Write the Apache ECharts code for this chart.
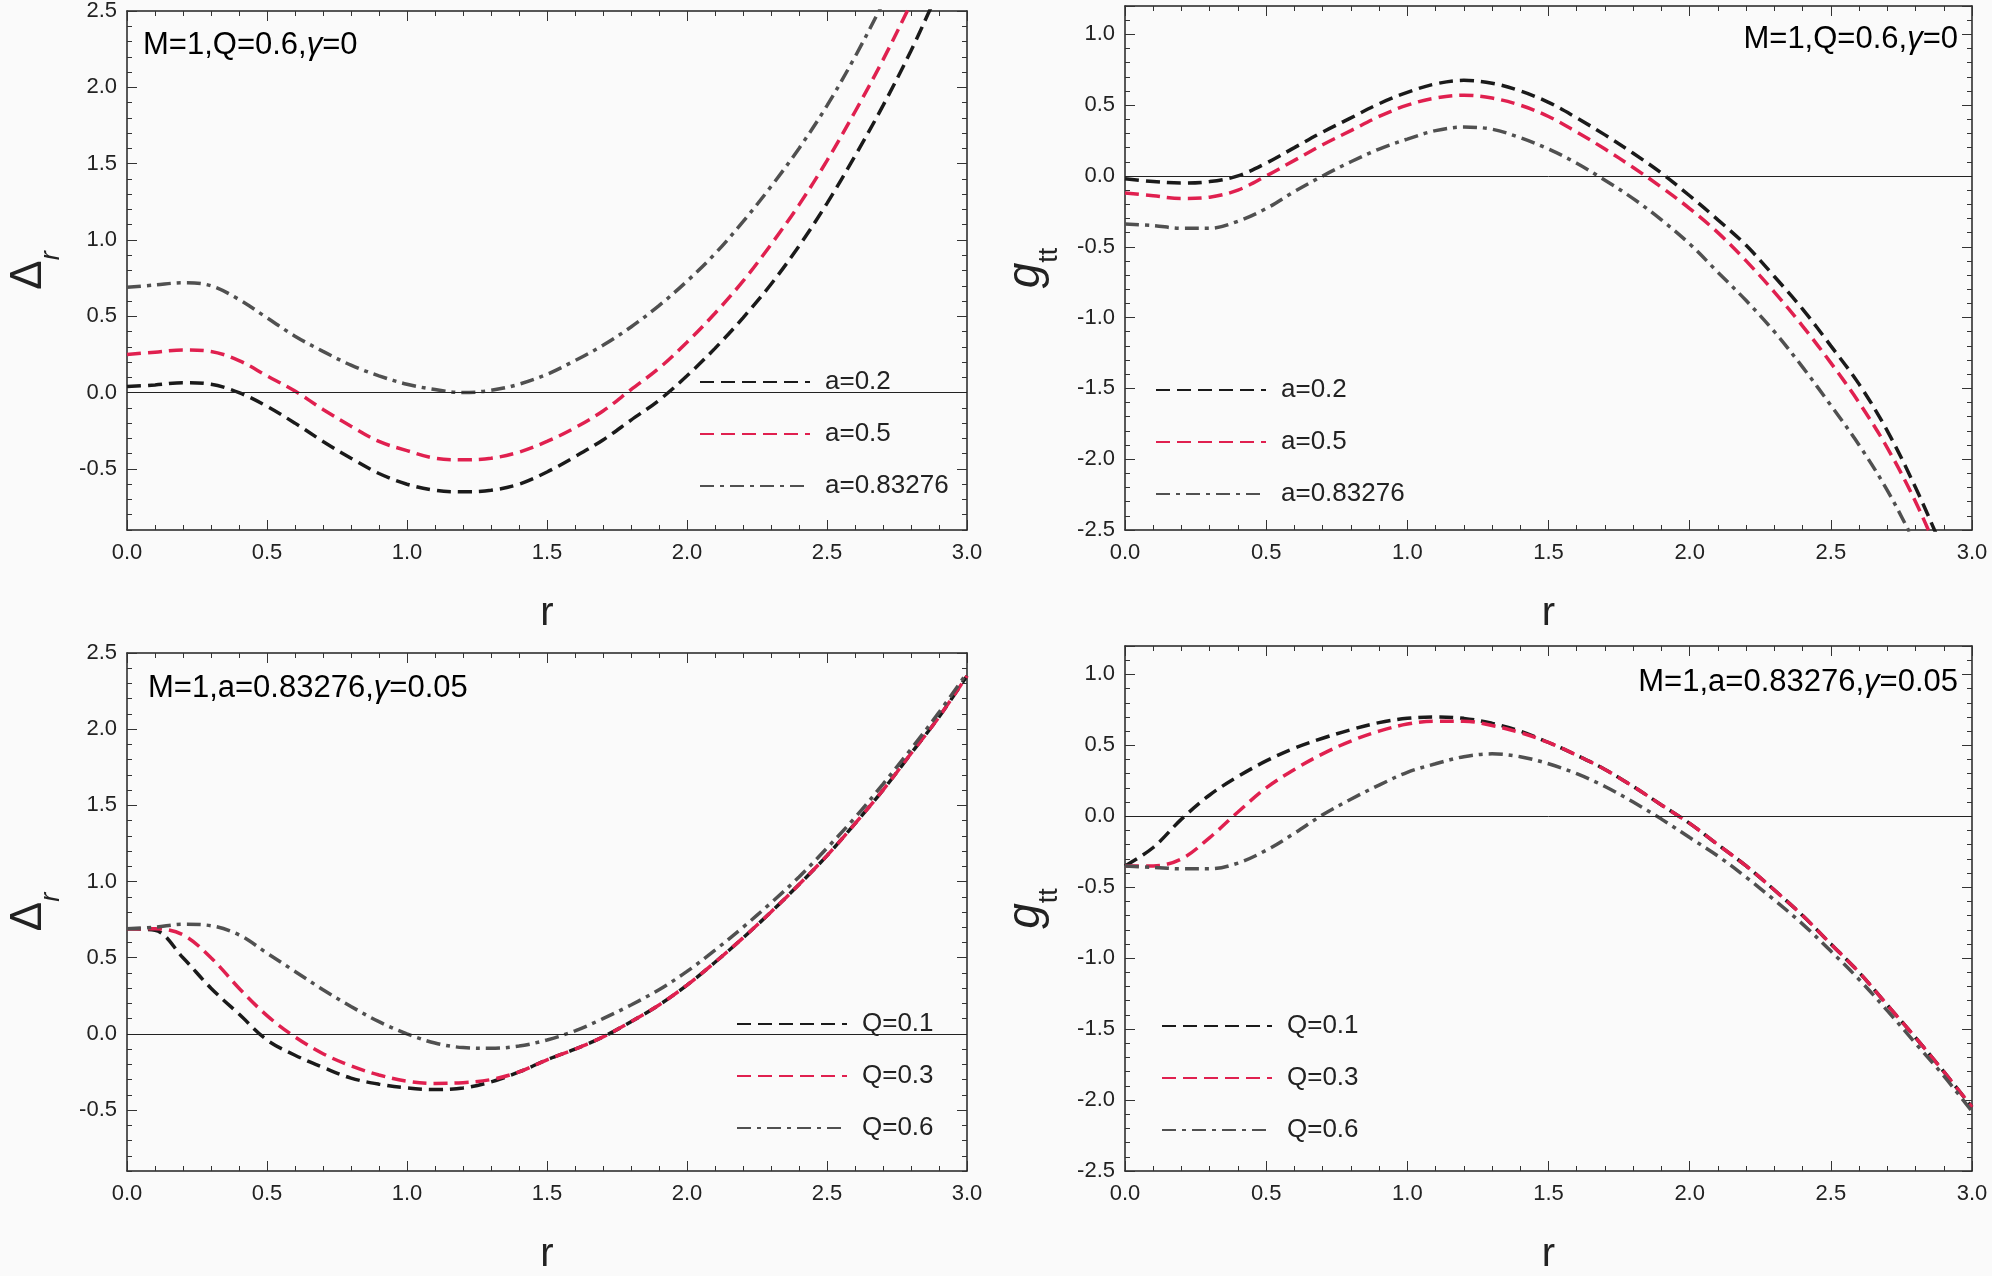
<!DOCTYPE html>
<html>
<head>
<meta charset="utf-8">
<script src="https://cdn.jsdelivr.net/npm/echarts@6/dist/echarts.min.js"></script>
<style>
  html, body { margin: 0; padding: 0; background: #fafafa; }
  #main { width: 1992px; height: 1276px; }
</style>
</head>
<body>
<div id="main"></div>
<script>
// r grid, 0 .. 3 in steps of 0.1
var rVals = [0,0.1,0.2,0.3,0.4,0.5,0.6,0.7,0.8,0.9,1.0,1.1,1.2,1.3,1.4,1.5,1.6,1.7,1.8,1.9,2.0,2.1,2.2,2.3,2.4,2.5,2.6,2.7,2.8,2.9,3.0];

// top-left: Delta_r, M=1, Q=0.6, gamma=0
var deltaA02 = [0.04,0.05,0.065,0.055,0.0,-0.09,-0.2,-0.32,-0.43,-0.53,-0.6,-0.64,-0.65,-0.64,-0.6,-0.52,-0.42,-0.31,-0.18,-0.05,0.11,0.29,0.49,0.71,0.96,1.24,1.55,1.88,2.24,2.64,3.05];
var deltaA05 = [0.25,0.265,0.28,0.27,0.21,0.11,0.01,-0.11,-0.22,-0.32,-0.38,-0.43,-0.44,-0.43,-0.39,-0.32,-0.23,-0.12,0.02,0.16,0.33,0.52,0.73,0.97,1.23,1.52,1.84,2.18,2.55,2.93,3.33];
var deltaA083 = [0.69,0.705,0.72,0.7,0.61,0.49,0.37,0.27,0.18,0.11,0.055,0.02,0.0,0.015,0.055,0.12,0.21,0.31,0.43,0.57,0.73,0.91,1.12,1.35,1.6,1.88,2.2,2.55,2.9,3.26,3.63];

// top-right: g_tt, M=1, Q=0.6, gamma=0
var gttA02 = [-0.02,-0.04,-0.05,-0.04,0.0,0.09,0.2,0.31,0.41,0.51,0.59,0.65,0.675,0.655,0.6,0.52,0.41,0.29,0.16,0.02,-0.14,-0.31,-0.49,-0.71,-0.94,-1.2,-1.47,-1.8,-2.2,-2.65,-3.1];
var gttA05 = [-0.12,-0.14,-0.16,-0.15,-0.1,0.0,0.11,0.22,0.32,0.42,0.5,0.55,0.57,0.55,0.5,0.42,0.31,0.19,0.06,-0.08,-0.23,-0.4,-0.6,-0.82,-1.06,-1.32,-1.6,-1.92,-2.3,-2.75,-3.2];
var gttA083 = [-0.34,-0.35,-0.37,-0.37,-0.32,-0.23,-0.11,0.0,0.1,0.19,0.26,0.32,0.345,0.33,0.27,0.19,0.09,-0.03,-0.16,-0.31,-0.48,-0.68,-0.88,-1.1,-1.35,-1.62,-1.9,-2.22,-2.6,-3.0,-3.4];

// bottom-left: Delta_r, M=1, a=0.83276, gamma=0.05
var deltaQ01 = [0.69,0.68,0.5,0.3,0.13,-0.04,-0.14,-0.22,-0.29,-0.33,-0.355,-0.365,-0.355,-0.315,-0.25,-0.17,-0.1,-0.02,0.08,0.19,0.32,0.47,0.63,0.8,0.98,1.17,1.38,1.6,1.84,2.08,2.35];
var deltaQ03 = [0.69,0.69,0.65,0.5,0.3,0.12,-0.02,-0.13,-0.21,-0.27,-0.31,-0.325,-0.32,-0.3,-0.25,-0.17,-0.1,-0.02,0.08,0.19,0.32,0.47,0.63,0.8,0.98,1.17,1.38,1.6,1.84,2.08,2.35];
var deltaQ06 = [0.69,0.7,0.72,0.71,0.65,0.53,0.41,0.29,0.18,0.08,0.0,-0.06,-0.09,-0.095,-0.08,-0.04,0.02,0.1,0.19,0.29,0.41,0.55,0.7,0.86,1.03,1.22,1.42,1.64,1.87,2.11,2.37];

// bottom-right: g_tt, M=1, a=0.83276, gamma=0.05
var gttQ01 = [-0.35,-0.22,-0.02,0.15,0.28,0.39,0.48,0.55,0.61,0.66,0.69,0.7,0.69,0.655,0.6,0.52,0.43,0.33,0.21,0.08,-0.05,-0.2,-0.35,-0.52,-0.7,-0.9,-1.1,-1.33,-1.56,-1.8,-2.05];
var gttQ03 = [-0.35,-0.35,-0.3,-0.15,0.03,0.2,0.33,0.44,0.53,0.6,0.65,0.67,0.67,0.64,0.59,0.52,0.43,0.33,0.21,0.08,-0.05,-0.2,-0.35,-0.52,-0.7,-0.9,-1.1,-1.33,-1.56,-1.8,-2.05];
var gttQ06 = [-0.35,-0.36,-0.37,-0.37,-0.33,-0.24,-0.12,0.01,0.12,0.22,0.31,0.37,0.42,0.44,0.42,0.37,0.3,0.21,0.1,-0.02,-0.15,-0.28,-0.43,-0.59,-0.76,-0.95,-1.15,-1.37,-1.6,-1.83,-2.08];

var deltaTicks = [-0.5,0,0.5,1,1.5,2,2.5];

var FONT = 'Liberation Sans';
var BLACK = '#1a1a1a', RED = '#e0204f', GRAY = '#505050';
var DASH = [14, 7], DASHDOT = [14, 6, 4, 6];

var grids = [
  { left: 127, top: 10, width: 840, height: 520 },
  { left: 1125, top: 6, width: 847, height: 524 },
  { left: 127, top: 653, width: 840, height: 519 },
  { left: 1125, top: 646, width: 847, height: 526 }
];

function fmt(v) { return v.toFixed(1); }

var xAxes = [], yAxes = [], series = [];

grids.forEach(function (g, i) {
  var base = {
    gridIndex: i, type: 'value', min: 0, max: 3, interval: 0.5,
    axisLine: { show: true, onZero: false, lineStyle: { color: '#222', width: 1.5 } },
    axisTick: { inside: true, length: 10, lineStyle: { color: '#333' } },
    minorTick: { show: true, splitNumber: 5, length: 5, lineStyle: { color: '#333' } },
    splitLine: { show: false }
  };
  xAxes.push(Object.assign({}, base, {
    position: 'bottom',
    axisLabel: { fontFamily: FONT, fontSize: 22, color: '#222', margin: 12, formatter: fmt },
    name: 'r', nameLocation: 'middle', nameGap: 64,
    nameTextStyle: { fontFamily: FONT, fontSize: 40, color: '#222' }
  }));
  xAxes.push(Object.assign({}, base, { position: 'top', axisLabel: { show: false } }));
});

function yName(i) {
  if (i % 2 === 0) return '{d|Δ}{s|r}';
  return '{g|g}{t|tt}';
}
var yRich = {
  d: { fontFamily: FONT, fontSize: 44, color: '#222' },
  s: { fontFamily: FONT, fontSize: 27, fontStyle: 'italic', color: '#222', verticalAlign: 'bottom', padding: [0, 0, -14, 0] },
  g: { fontFamily: FONT, fontSize: 46, fontStyle: 'italic', color: '#222' },
  t: { fontFamily: FONT, fontSize: 27, color: '#222', verticalAlign: 'bottom', padding: [0, 0, -14, 0] }
};

grids.forEach(function (g, i) {
  var isDelta = (i % 2 === 0);
  var ymin = isDelta ? -0.9 : -2.5, ymax = isDelta ? 2.5 : 1.2;
  ['left', 'right'].forEach(function (pos) {
    var ax = {
      gridIndex: i, type: 'value', min: ymin, max: ymax, position: pos,
      axisLine: { show: true, onZero: false, lineStyle: { color: '#222', width: 1.5 } },
      splitLine: { show: false }
    };
    if (isDelta) {
      ax.interval = 0.1;
      ax.axisTick = { inside: true, length: 5, lineStyle: { color: '#333' } };
    } else {
      ax.interval = 0.5;
      ax.axisTick = { inside: true, length: 10, lineStyle: { color: '#333' } };
      ax.minorTick = { show: true, splitNumber: 5, length: 5, lineStyle: { color: '#333' } };
    }
    if (pos === 'left') {
      ax.axisLabel = { fontFamily: FONT, fontSize: 22, color: '#222', margin: 10, formatter: fmt, showMaxLabel: isDelta };
      if (isDelta) ax.axisLabel.customValues = deltaTicks;
      ax.name = yName(i);
      ax.nameLocation = 'middle';
      ax.nameRotate = 90;
      ax.nameGap = 76;
      ax.nameTextStyle = { rich: yRich };
    } else {
      ax.axisLabel = { show: false };
    }
    yAxes.push(ax);
    if (isDelta) {
      // long major ticks at 0.5 steps
      yAxes.push({
        gridIndex: i, type: 'value', min: ymin, max: ymax, position: pos, interval: 0.1,
        axisLine: { show: false, onZero: false }, splitLine: { show: false }, axisLabel: { show: false },
        axisTick: { inside: true, length: 10, customValues: deltaTicks, lineStyle: { color: '#333' } }
      });
    }
  });
});

// index of the first y axis of each grid
var yStart = [0, 4, 6, 10];

function pairs(ys) { return rVals.map(function (r, k) { return [r, ys[k]]; }); }

function addLine(i, name, ys, color, dash, withZero) {
  var s = {
    name: name, type: 'line', xAxisIndex: i * 2, yAxisIndex: yStart[i],
    data: pairs(ys), smooth: 0.35, symbol: 'none', clip: true,
    lineStyle: { color: color, width: 3.5, type: dash },
    itemStyle: { color: color }
  };
  if (withZero) {
    s.markLine = {
      silent: true, symbol: 'none', label: { show: false },
      lineStyle: { color: '#222', width: 1, type: 'solid' },
      data: [{ yAxis: 0 }]
    };
  }
  series.push(s);
}

addLine(0, 'a=0.2', deltaA02, BLACK, DASH, true);
addLine(0, 'a=0.5', deltaA05, RED, DASH);
addLine(0, 'a=0.83276', deltaA083, GRAY, DASHDOT);
addLine(1, 'a=0.2', gttA02, BLACK, DASH, true);
addLine(1, 'a=0.5', gttA05, RED, DASH);
addLine(1, 'a=0.83276', gttA083, GRAY, DASHDOT);
addLine(2, 'Q=0.1', deltaQ01, BLACK, DASH, true);
addLine(2, 'Q=0.3', deltaQ03, RED, DASH);
addLine(2, 'Q=0.6', deltaQ06, GRAY, DASHDOT);
addLine(3, 'Q=0.1', gttQ01, BLACK, DASH, true);
addLine(3, 'Q=0.3', gttQ03, RED, DASH);
addLine(3, 'Q=0.6', gttQ06, GRAY, DASHDOT);

function legendAt(left, top, names) {
  return {
    left: left, top: top, orient: 'vertical', itemWidth: 110, itemHeight: 14, itemGap: 26,
    selectedMode: false, data: names,
    itemStyle: { opacity: 0 },
    textStyle: { fontFamily: FONT, fontSize: 26, color: '#222', padding: [0, 0, 0, 10] }
  };
}
var aNames = ['a=0.2', 'a=0.5', 'a=0.83276'];
var qNames = ['Q=0.1', 'Q=0.3', 'Q=0.6'];

var noteRich = {
  n: { fontFamily: FONT, fontSize: 31, color: '#222' },
  i: { fontFamily: FONT, fontSize: 31, fontStyle: 'italic', color: '#222' }
};
function note(x, y, align, parts) {
  return {
    type: 'text', left: align === 'left' ? x : null, right: align === 'right' ? x : null, top: y,
    style: { text: parts, rich: noteRich, align: align }
  };
}

var chart = echarts.init(document.getElementById('main'));
chart.setOption({
  backgroundColor: '#fafafa',
  animation: false,
  grid: grids,
  xAxis: xAxes,
  yAxis: yAxes,
  legend: [
    legendAt(694, 364, aNames),
    legendAt(1150, 372, aNames),
    legendAt(731, 1006, qNames),
    legendAt(1156, 1008, qNames)
  ],
  graphic: [
    note(143, 30, 'left', '{n|M=1,Q=0.6,}{i|γ}{n|=0}'),
    note(34, 24, 'right', '{n|M=1,Q=0.6,}{i|γ}{n|=0}'),
    note(148, 673, 'left', '{n|M=1,a=0.83276,}{i|γ}{n|=0.05}'),
    note(34, 667, 'right', '{n|M=1,a=0.83276,}{i|γ}{n|=0.05}')
  ],
  series: series
});
</script>
</body>
</html>
